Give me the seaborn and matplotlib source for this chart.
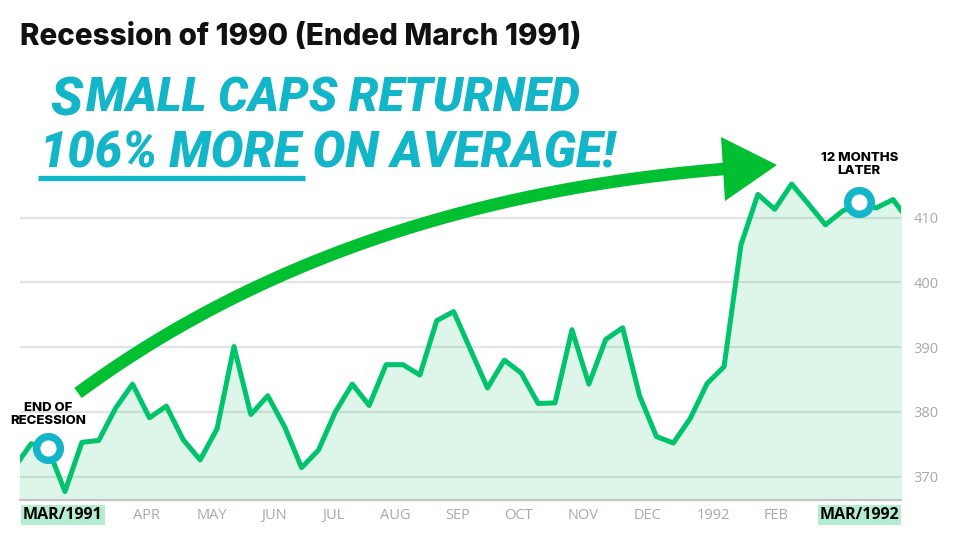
import numpy as np
import pandas as pd
import matplotlib
matplotlib.use("Agg")
import matplotlib.pyplot as plt
import seaborn as sns
from matplotlib.patches import Polygon

# ---------------- data ----------------
values = [371.4, 375.1, 374.4, 367.7, 375.3, 375.6, 380.6, 384.3, 379.1, 380.9,
          375.7, 372.6, 377.4, 390.1, 379.6, 382.5, 377.7, 371.4, 374.1, 380.0,
          384.3, 381.0, 387.3, 387.3, 385.7, 394.1, 395.5, 389.6, 383.7, 388.0,
          386.0, 381.3, 381.4, 392.7, 384.3, 391.2, 393.0, 382.5, 376.2, 375.2,
          379.0, 384.4, 387.0, 405.8, 413.6, 411.3, 415.2, 412.1, 408.9, 411.0,
          412.4, 411.5, 412.8, 409.3]
month_labels = ["APR", "MAY", "JUN", "JUL", "AUG", "SEP", "OCT", "NOV", "DEC", "1992", "FEB"]
month_pos = [7.83, 11.68, 15.37, 18.86, 22.53, 26.21, 29.86, 33.67, 37.5, 41.36, 45.1]
y_ticks = [370, 380, 390, 400, 410]
start_idx, end_idx = 2, 50
start_label, end_label = "MAR/1991", "MAR/1992"
title = "Recession of 1990 (Ended March 1991)"
note1_first, note1_rest = "S", "MALL CAPS RETURNED"
note2 = "106% MORE ON AVERAGE!"

LINE = "#00c46c"
FILL = "#00c060"
TEAL = "#12b6c8"
ARROW = "#00c032"
BOX = "#b4ecd0"
GREY = "#a9a9a9"
HEAVY = ["Inter", "Roboto", "DejaVu Sans"]

sns.set_theme(style="white")
plt.rcParams["font.family"] = ["Open Sans", "DejaVu Sans"]

fig = plt.figure(figsize=(9.6, 5.4), dpi=100)
ax = fig.add_axes([20 / 960, 40 / 540, 881 / 960, 360 / 540])

df = pd.DataFrame({"idx": np.arange(len(values)), "value": values})
YMIN, YMAX = 366.4, 422.0
ax.fill_between(df["idx"], df["value"], YMIN - 5, color=FILL, alpha=0.13, lw=0, zorder=1)
sns.lineplot(data=df, x="idx", y="value", ax=ax, color=LINE, lw=3.6, zorder=3)

ax.set_xlim(0.34, 52.47)
ax.set_ylim(YMIN, YMAX)
ax.set_xlabel("")
ax.set_ylabel("")
ax.set_yticks(y_ticks)
ax.yaxis.tick_right()
ax.set_xticks(month_pos, month_labels)
ax.tick_params(axis="both", length=0, colors=GREY, labelsize=10.5)
ax.tick_params(axis="y", pad=9)
ax.tick_params(axis="x", pad=6)
ax.grid(axis="y", color="#e3e3e3", lw=1.6)
ax.grid(axis="x", visible=False)
ax.set_axisbelow(True)
for s in ["top", "left", "right"]:
    ax.spines[s].set_visible(False)
ax.spines["bottom"].set_color("#c4c4c4")
ax.spines["bottom"].set_linewidth(1.6)
ax.spines["bottom"].set_zorder(4)

# circles
for i in (start_idx, end_idx):
    ax.plot([df["idx"][i]], [df["value"][i]], "o", ms=17, mfc="white", mec=TEAL,
            mew=5.4, zorder=6, clip_on=False)

ax.annotate("END OF\nRECESSION", xy=(start_idx, values[start_idx]), xytext=(0, 34),
            textcoords="offset pixels", ha="center", va="center", fontsize=9.5,
            fontweight="heavy", color="black", linespacing=1.1, family=HEAVY)
ax.annotate("12 MONTHS\nLATER", xy=(end_idx, values[end_idx]), xytext=(0, 38),
            textcoords="offset pixels", ha="center", va="center", fontsize=9.5,
            fontweight="heavy", color="black", linespacing=1.1, family=HEAVY)

# highlighted x labels
ax.annotate(start_label, xy=(ax.get_xlim()[0], 0), xycoords=("data", "axes fraction"),
            xytext=(3, -15), textcoords="offset pixels", ha="left", va="center",
            fontsize=11.5, fontweight="bold", color="black",
            bbox=dict(boxstyle="square,pad=0.12", fc=BOX, ec="none"))
ax.annotate(end_label, xy=(end_idx, 0), xycoords=("data", "axes fraction"),
            xytext=(0, -15), textcoords="offset pixels", ha="center", va="center",
            fontsize=11.5, fontweight="bold", color="black",
            bbox=dict(boxstyle="square,pad=0.12", fc=BOX, ec="none"))

# ---------------- overlay (pixel coords) ----------------
ov = fig.add_axes([0, 0, 1, 1], zorder=10)
ov.set_xlim(0, 960)
ov.set_ylim(540, 0)
ov.axis("off")
ov.patch.set_alpha(0)

renderer = fig.canvas.get_renderer()


def fit(t, w_target):
    w = t.get_window_extent(renderer).width
    t.set_fontsize(t.get_fontsize() * w_target / w)


t = ov.text(20, 45, title, fontsize=20, fontweight="heavy", family=HEAVY,
            ha="left", va="baseline", color="#111111")
fit(t, 563)

hand = dict(family=["Roboto", "DejaVu Sans"], fontweight="black", style="italic", color=TEAL)
s1 = ov.text(50, 115, note1_first, fontsize=38, ha="left", va="baseline", **hand)
bb = s1.get_window_extent(renderer)
s2 = ov.text(50 + bb.width + 4, 112, note1_rest, fontsize=26, ha="left", va="baseline", **hand)
fit(s2, 580 - (50 + bb.width + 4))
s3 = ov.text(40, 168, note2, fontsize=30, ha="left", va="baseline", **hand)
fit(s3, 575)
ov.plot([38, 305], [178, 178], color=TEAL, lw=3.8, solid_capstyle="butt")

# curved arrow (quadratic bezier)
P0 = np.array([78, 393.0])
P1 = np.array([340, 200.0])
P2 = np.array([724, 169.0])
tt = np.linspace(0, 1, 100)[:, None]
curve = (1 - tt) ** 2 * P0 + 2 * (1 - tt) * tt * P1 + tt ** 2 * P2
ov.plot(curve[:, 0], curve[:, 1], color=ARROW, lw=9, solid_capstyle="butt")
ov.add_patch(Polygon([(721, 137), (725, 201), (777, 165)], closed=True, fc=ARROW, ec="none"))

fig.savefig("out.png", dpi=100)
